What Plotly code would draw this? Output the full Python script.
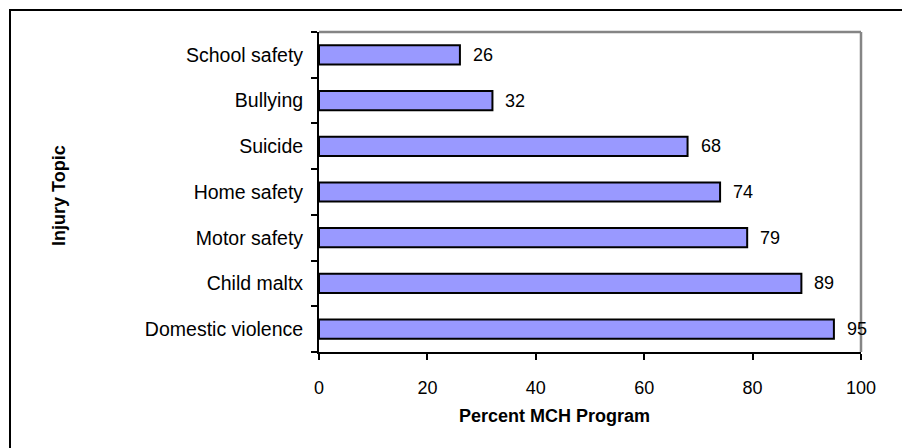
import plotly.graph_objects as go

categories = ["School safety", "Bullying", "Suicide", "Home safety",
              "Motor safety", "Child maltx", "Domestic violence"]
values = [26, 32, 68, 74, 79, 89, 95]
x_ticks = [0, 20, 40, 60, 80, 100]
x_title = "Percent MCH Program"
y_title = "Injury Topic"

W, H = 902, 448
L, R, T, B = 319, 861, 32, 352

def px(xp):
    return (xp - L) / (R - L)

def py(yp):
    return (B - yp) / (B - T)

font = "Liberation Sans, Arial, sans-serif"

fig = go.Figure()
fig.add_trace(go.Bar(
    x=values, y=categories, orientation="h",
    marker=dict(color="#9999FF", line=dict(color="black", width=2)),
    hoverinfo="skip",
))

annotations = []
for c, v in zip(categories, values):
    annotations.append(dict(x=v, y=c, xref="x", yref="y", text=str(v),
                            showarrow=False, xanchor="left", xshift=11,
                            font=dict(size=18, color="black", family=font)))
annotations.append(dict(x=px(554), y=py(416), xref="paper", yref="paper",
                        text="<b>%s</b>" % x_title, showarrow=False,
                        xanchor="center", yanchor="middle",
                        font=dict(size=18, color="black", family=font)))
annotations.append(dict(x=px(59), y=py(196), xref="paper", yref="paper",
                        text="<b>%s</b>" % y_title, showarrow=False, textangle=-90,
                        xanchor="center", yanchor="middle",
                        font=dict(size=18, color="black", family=font)))

shapes = [
    dict(type="line", xref="paper", yref="paper", x0=0, x1=1, y0=1, y1=1,
         line=dict(color="#858585", width=2.5)),
    dict(type="line", xref="paper", yref="paper", x0=1, x1=1, y0=0, y1=1,
         line=dict(color="#858585", width=2.5)),
    dict(type="rect", xref="paper", yref="paper", x0=px(10), x1=px(960),
         y0=py(500), y1=py(10), line=dict(color="black", width=2)),
]

fig.update_layout(
    width=W, height=H,
    margin=dict(l=L, r=W - R, t=T, b=H - B),
    paper_bgcolor="white", plot_bgcolor="white",
    showlegend=False, bargap=0.58,
    font=dict(family=font, size=18, color="black"),
    annotations=annotations, shapes=shapes,
    xaxis=dict(range=[0, 100], tickvals=x_ticks, ticks="outside", ticklen=6,
               tickwidth=2, tickcolor="black", showline=True, linecolor="black",
               linewidth=2, showgrid=False, zeroline=False, fixedrange=True,
               ticklabelstandoff=12, tickfont=dict(size=18)),
    yaxis=dict(categoryorder="array", categoryarray=categories[::-1],
               ticks="outside", tickson="boundaries", ticklen=6, tickwidth=2,
               tickcolor="black", showline=True, linecolor="black", linewidth=2,
               showgrid=False, zeroline=False, fixedrange=True,
               ticklabelstandoff=10, tickfont=dict(size=19.5)),
)

fig.write_html("out.html", config={"displayModeBar": False})
